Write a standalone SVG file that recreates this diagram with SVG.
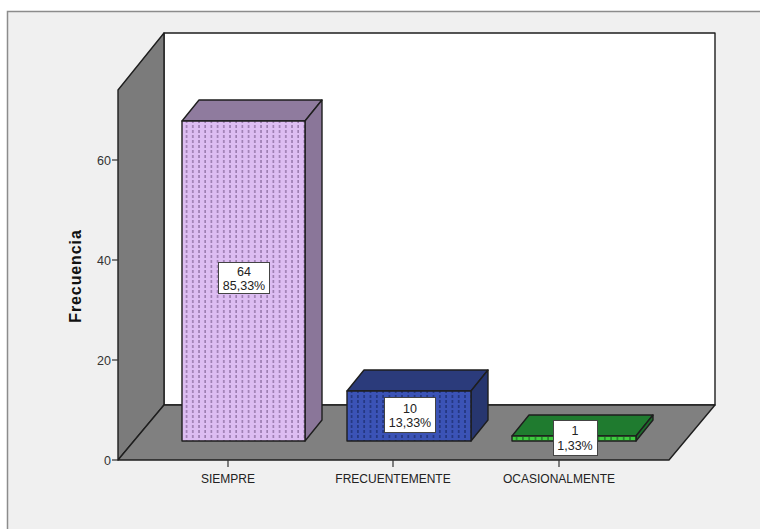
<svg xmlns="http://www.w3.org/2000/svg" width="760" height="529" viewBox="0 0 760 529">
<style>
.edge{stroke:#1e1e1e;stroke-width:1.4;stroke-linejoin:round}
.tick{stroke:#333;stroke-width:1.2}
.ylab{font-family:"Liberation Sans",Arial,sans-serif;font-size:12.5px;fill:#333;text-anchor:end}
.xlab{font-family:"Liberation Sans",Arial,sans-serif;font-size:12px;fill:#222;text-anchor:middle}
.vlab{font-family:"Liberation Sans",Arial,sans-serif;font-size:12.5px;fill:#222;text-anchor:middle}
.box{fill:#fff;stroke:#444;stroke-width:1}
</style>
<defs>
<pattern id="p1" patternUnits="userSpaceOnUse" x="183" y="0" width="6.2" height="5">
<rect width="6.2" height="5" fill="#ddbdf2"/><rect x="3" y="0" width="1.2" height="3" fill="#86679a"/>
</pattern>
<pattern id="p2" patternUnits="userSpaceOnUse" x="348" y="0" width="6.3" height="5">
<rect width="6.3" height="5" fill="#3b53b6"/><rect x="3" y="0" width="1.2" height="3" fill="#1a2a6a"/>
</pattern>
<pattern id="p3" patternUnits="userSpaceOnUse" x="513" y="437" width="6.3" height="5">
<rect width="6.3" height="5" fill="#3fcc3f"/><rect x="3" y="0" width="1.2" height="3" fill="#176a24"/>
</pattern>
</defs>
<rect x="0" y="0" width="760" height="529" fill="#fff"/>
<rect id="frame" x="7.5" y="11.5" width="800" height="600" fill="#f0f0f0" stroke="#8c8c8c" stroke-width="1.5"/>
<g id="plot-area">
<rect x="164" y="33" width="551" height="372" fill="#fff" class="edge"/>
<polygon points="118,90 164,33 164,405 118,460" fill="#7b7b7b" class="edge"/>
<polygon points="118,460 164,405 715,405 669,460" fill="#808080" class="edge"/>
</g>
<g id="y-axis">
<line class="tick" x1="112" y1="460" x2="118" y2="460"/>
<line class="tick" x1="112" y1="360" x2="118" y2="360"/>
<line class="tick" x1="112" y1="260" x2="118" y2="260"/>
<line class="tick" x1="112" y1="160" x2="118" y2="160"/>
<text class="ylab" x="111" y="465">0</text>
<text class="ylab" x="111" y="365">20</text>
<text class="ylab" x="111" y="265">40</text>
<text class="ylab" x="111" y="165">60</text>
<text x="81" y="276" transform="rotate(-90 81 276)" font-family="Liberation Sans,Arial,sans-serif" font-size="16" font-weight="bold" letter-spacing="0.9" fill="#111" text-anchor="middle">Frecuencia</text>
</g>
<g id="x-axis">
<line class="tick" x1="228" y1="460" x2="228" y2="467"/>
<line class="tick" x1="393" y1="460" x2="393" y2="467"/>
<line class="tick" x1="559" y1="460" x2="559" y2="467"/>
<text class="xlab" x="228" y="483">SIEMPRE</text>
<text class="xlab" x="393" y="483">FRECUENTEMENTE</text>
<text class="xlab" x="559" y="483">OCASIONALMENTE</text>
</g>
<g id="bar-siempre">
<polygon points="182,121 199,100 322,100 305,121" fill="#8f7b9e" class="edge"/>
<polygon points="305,121 322,100 322,420 305,441" fill="#8a7699" class="edge"/>
<rect x="182" y="121" width="123" height="320" fill="url(#p1)" class="edge"/>
<rect class="box" x="218.5" y="262.5" width="51" height="31"/>
<text class="vlab" x="244" y="276">64</text>
<text class="vlab" x="244" y="290">85,33%</text>
</g>
<g id="bar-frecuentemente">
<polygon points="347,391 364,370 488,370 471,391" fill="#2b3b7b" class="edge"/>
<polygon points="471,391 488,370 488,420 471,441" fill="#27366f" class="edge"/>
<rect x="347" y="391" width="124" height="50" fill="url(#p2)" class="edge"/>
<rect class="box" x="384.5" y="397.5" width="51" height="35"/>
<text class="vlab" x="410" y="413">10</text>
<text class="vlab" x="410" y="427">13,33%</text>
</g>
<g id="bar-ocasionalmente">
<polygon points="512,436 529,415 653,415 636,436" fill="#1f7b2f" class="edge"/>
<polygon points="636,436 653,415 653,420 636,441" fill="#1b6e2a" class="edge"/>
<rect x="512" y="436" width="124" height="5" fill="url(#p3)" class="edge"/>
<rect class="box" x="553.5" y="420.5" width="44" height="35"/>
<text class="vlab" x="575" y="435">1</text>
<text class="vlab" x="575" y="450">1,33%</text>
</g>
</svg>
